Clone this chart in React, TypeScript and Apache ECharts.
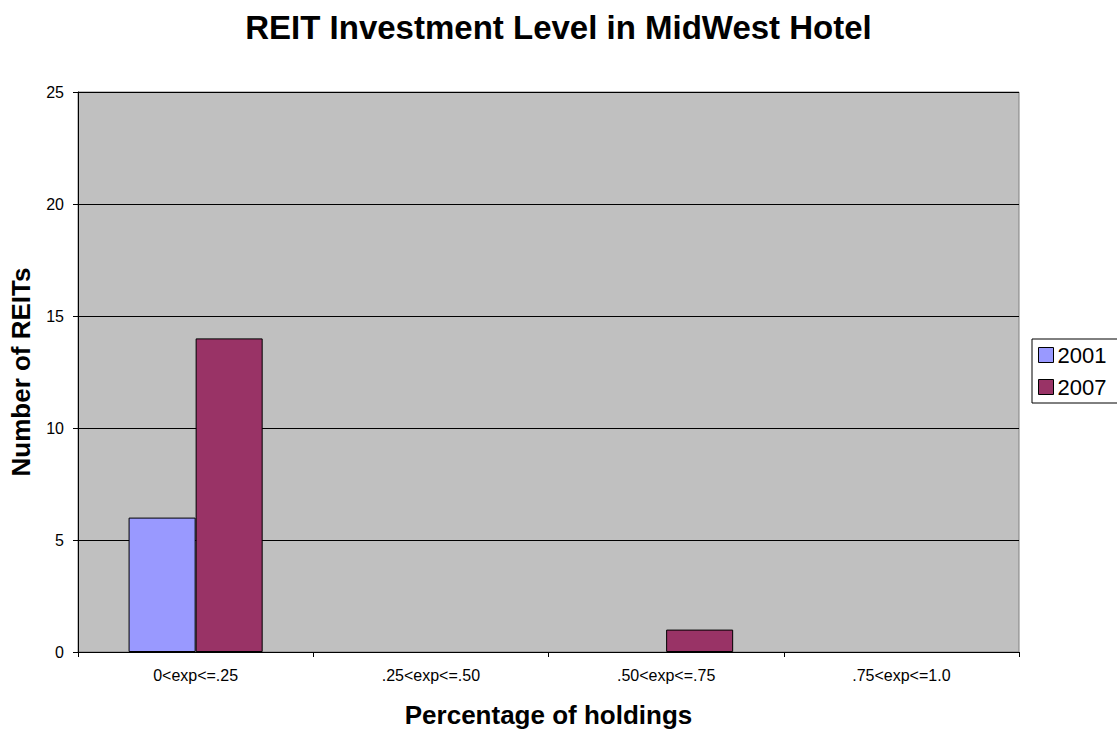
import React, { useEffect, useRef } from "react";
import * as echarts from "echarts";

const categories = ["0<exp<=.25", ".25<exp<=.50", ".50<exp<=.75", ".75<exp<=1.0"];
const series2001 = [6, 0, 0, 0];
const series2007 = [14, 0, 1, 0];
const yTicks = { min: 0, max: 25, interval: 5 };

const FONT = "'Liberation Sans', Arial, sans-serif";

// zero-height bars get no outline so they don't show as a line on the axis
const toBarData = (values: number[]) =>
  values.map((v) => (v === 0 ? { value: v, itemStyle: { borderWidth: 0 } } : v));

export default function App() {
  const ref = useRef<HTMLDivElement>(null);

  useEffect(() => {
    if (!ref.current) return;
    const chart = echarts.init(ref.current, null, { renderer: "svg" });
    chart.setOption({
      animation: false,
      backgroundColor: "#ffffff",
      textStyle: { fontFamily: FONT },
      title: {
        text: "REIT Investment Level in MidWest Hotel",
        left: "center",
        top: 6,
        textStyle: { fontFamily: FONT, fontSize: 33, fontWeight: "bold", color: "#000" },
      },
      legend: {
        orient: "vertical",
        left: 1032,
        top: 339,
        padding: [5, 30, 5, 6],
        itemGap: 10,
        itemWidth: 15,
        itemHeight: 15,
        borderColor: "#000",
        borderWidth: 1,
        icon: "rect",
        itemStyle: { borderColor: "#000", borderWidth: 1 },
        textStyle: { fontFamily: FONT, fontSize: 22, color: "#000", padding: [0, 0, 0, -1] },
        data: ["2001", "2007"],
      },
      grid: {
        left: 77,
        right: 98,
        top: 92,
        bottom: 80,
        show: true,
        backgroundColor: "#C0C0C0",
        borderColor: "#808080",
        borderWidth: 1,
      },
      xAxis: {
        type: "category",
        data: categories,
        name: "Percentage of holdings",
        nameLocation: "middle",
        nameGap: 50,
        nameTextStyle: { fontFamily: FONT, fontSize: 26, fontWeight: "bold", color: "#000" },
        axisLine: { lineStyle: { color: "#000", width: 1 } },
        axisTick: { show: true, length: 5, lineStyle: { color: "#000" } },
        axisLabel: { fontFamily: FONT, fontSize: 16, color: "#000", margin: 15 },
        splitLine: { show: false },
      },
      yAxis: {
        type: "value",
        min: yTicks.min,
        max: yTicks.max,
        interval: yTicks.interval,
        name: "Number of REITs",
        nameLocation: "middle",
        nameGap: 44,
        nameTextStyle: { fontFamily: FONT, fontSize: 26, fontWeight: "bold", color: "#000" },
        axisLine: { show: true, lineStyle: { color: "#000", width: 1 } },
        axisTick: { show: true, length: 5, lineStyle: { color: "#000" } },
        axisLabel: { fontFamily: FONT, fontSize: 16, color: "#000", margin: 14 },
        splitLine: { show: true, lineStyle: { color: "#000", width: 1 } },
      },
      series: [
        {
          name: "2001",
          type: "bar",
          data: toBarData(series2001),
          barGap: "0%",
          barCategoryGap: "43%",
          itemStyle: { color: "#9999FF", borderColor: "#000", borderWidth: 1 },
        },
        {
          name: "2007",
          type: "bar",
          data: toBarData(series2007),
          barGap: "0%",
          barCategoryGap: "43%",
          itemStyle: { color: "#993366", borderColor: "#000", borderWidth: 1 },
        },
      ],
    });
    return () => chart.dispose();
  }, []);

  return <div ref={ref} style={{ width: 1117, height: 733, position: "absolute", left: 0, top: 0 }} />;
}
